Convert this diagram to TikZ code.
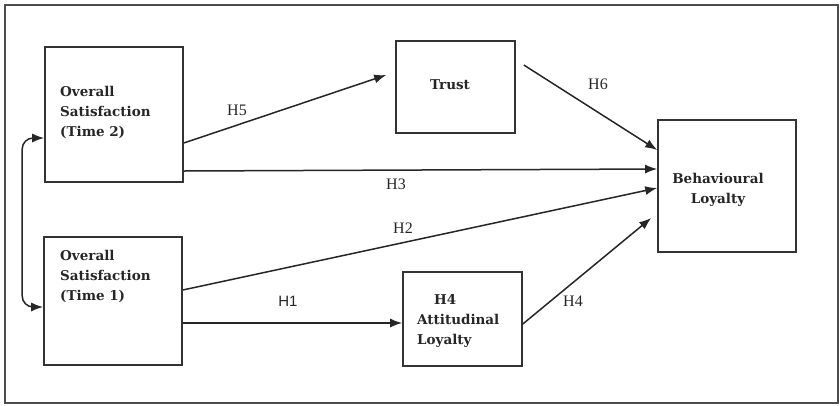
\documentclass[tikz,border=0pt]{standalone}
\usepackage{fontspec}
\setmainfont{Liberation Serif}
\newfontfamily\boxfont{DejaVu Serif}
\newfontfamily\labsans{Liberation Sans}
\usetikzlibrary{arrows.meta}

\begin{document}
\begin{tikzpicture}[x=1pt, y=-1pt,
  box/.style={draw=black!80, line width=1.6pt, inner sep=0pt},
  txt/.style={font=\boxfont\bfseries\fontsize{13.5}{20}\selectfont, inner sep=0pt,
              text=black!85},
  lab/.style={font=\fontsize{16}{18}\selectfont, inner sep=0pt, text=black!85},
  arrow/.style={-{Latex[length=12pt,width=9pt]}, line width=1.5pt, draw=black!85},
  frame/.style={draw=black!70, line width=1.6pt}
]

% page and outer frame
\useasboundingbox (0,0) rectangle (840,405);
\draw[frame] (5,5) rectangle (838,403);

% boxes
\node[box, minimum width=138pt, minimum height=135pt] (os2)   at (114,114.5) {};
\node[box, minimum width=138pt, minimum height=128pt] (os1)   at (113,301) {};
\node[box, minimum width=119pt, minimum height=92pt]  (trust) at (455.5,87) {};
\node[box, minimum width=119pt, minimum height=94pt]  (att)   at (462.5,319) {};
\node[box, minimum width=138pt, minimum height=132pt] (beh)   at (727,186) {};

% box texts
\node[txt, align=left, anchor=north west] (os2txt) at (60,86)
  {Overall\\Satisfaction\\(Time 2)};
\node[txt, align=left, anchor=north west] (os1txt) at (60,250)
  {Overall\\Satisfaction\\(Time 1)};
\node[txt] (trusttxt) at (450,85) {Trust};
\node[txt, align=left, anchor=north west] (atttxt) at (417,294)
  {\hspace{17pt}H4\\Attitudinal\\Loyalty};
\node[txt, align=center] (behtxt) at (718,190) {Behavioural\\Loyalty};

% satisfaction Time 1 <-> Time 2
\draw[arrow, {Latex[length=12pt,width=9pt]}-{Latex[length=12pt,width=9pt]},
      rounded corners=11pt]
  ([yshift=-23.5pt]os2.west) -- ++(-22,0) |- ([yshift=-6pt]os1.west);

% hypotheses
\draw[arrow] ([yshift=-28.5pt]os2.east) -- ([xshift=-9pt,yshift=12pt]trust.west);
\draw[arrow] ([xshift=8pt,yshift=22pt]trust.east) -- ([yshift=36pt]beh.west);
\draw[arrow] ([yshift=-56.5pt]os2.east) -- ([yshift=17pt]beh.west);
\draw[arrow] ([yshift=11pt]os1.east) -- ([yshift=-2pt]beh.west);
\draw[arrow] ([yshift=-22pt]os1.east) -- ([yshift=-4pt]att.west);
\draw[arrow] ([yshift=-5pt]att.east) -- ([xshift=-6pt,yshift=-32pt]beh.west);

% labels
\node[lab] (h5) at (237,110) {H5};
\node[lab] (h6) at (598,84) {H6};
\node[lab] (h3) at (396,184) {H3};
\node[lab] (h2) at (403,228) {H2};
\node[lab, font=\labsans\fontsize{15}{17}\selectfont] (h1) at (288,301) {H1};
\node[lab] (h4) at (573,301) {H4};

\end{tikzpicture}
\end{document}
